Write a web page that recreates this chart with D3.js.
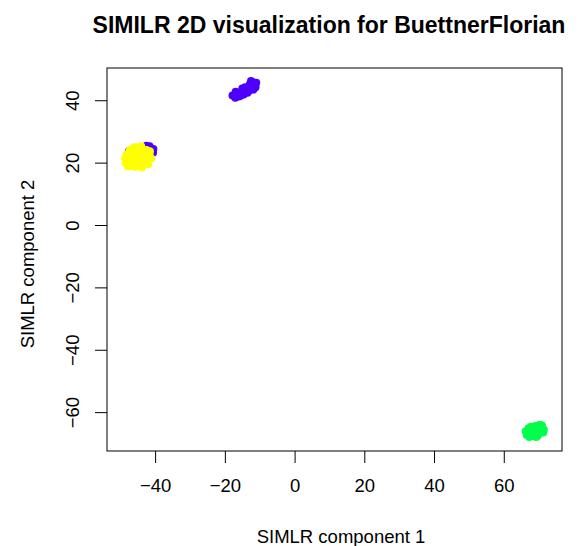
<!DOCTYPE html>
<html>
<head>
<meta charset="utf-8">
<script src="https://cdn.jsdelivr.net/npm/d3@7"></script>
<style>
  body { margin: 0; background: #fff; }
  svg { font-family: "Liberation Sans", Arial, Helvetica, sans-serif; }
</style>
</head>
<body>
<svg width="578" height="546"></svg>
<script>
//cluster points (SIMLR component 1, component 2)
var bluePoints = [
    [-17.8, 41.7], [-16.6, 42.0], [-15.8, 42.6], [-14.9, 43.0], [-14.0, 43.6],
    [-13.2, 44.0], [-12.3, 44.6], [-11.5, 45.2], [-11.2, 44.3], [-12.9, 45.2],
    [-12.0, 45.9], [-14.6, 42.0], [-13.5, 42.6], [-16.0, 41.4], [-16.9, 42.9],
    [-17.0, 41.0], [-15.5, 41.6], [-13.0, 43.2], [-11.0, 45.8], [-12.5, 46.3],
    [-11.8, 43.6], [-14.2, 44.3], [-15.0, 43.9],
    [-41.6, 25.4], [-40.5, 24.5], [-40.6, 23.3], [-42.5, 25.6], [-47.4, 24.0]
];
var yellowPoints = [
    [-48.6, 21.5], [-48.4, 20.0], [-47.5, 23.0], [-47.3, 19.2], [-46.8, 22.0],
    [-46.5, 24.2], [-46.3, 20.5], [-45.8, 18.8], [-45.5, 23.5], [-45.2, 21.8],
    [-45.0, 25.0], [-44.8, 20.0], [-44.5, 22.8], [-44.2, 19.0], [-44.0, 24.5],
    [-43.7, 21.2], [-43.3, 23.6], [-43.0, 19.8], [-42.8, 22.0], [-42.5, 24.2],
    [-42.2, 20.6], [-41.6, 22.8], [-41.1, 21.5], [-46.0, 25.1], [-47.2, 24.3],
    [-43.8, 18.6], [-45.6, 19.4], [-42.0, 19.6], [-48.2, 22.8], [-47.8, 18.9],
    [-41.5, 23.8], [-44.0, 25.4]
];
var greenPoints = [
    [66.3, -66.0], [66.6, -67.2], [67.1, -65.0], [67.5, -66.5], [67.8, -64.5],
    [68.1, -67.5], [68.5, -65.5], [68.8, -66.8], [69.1, -64.3], [69.5, -66.0],
    [69.8, -67.3], [70.1, -64.8], [70.5, -66.2], [70.9, -65.0], [71.3, -66.4],
    [71.5, -65.5], [67.3, -67.8], [69.3, -67.8], [70.3, -63.9], [71.0, -64.2]
];
var groups = [
    { name: "blue", color: "#4D00FF", points: bluePoints },
    { name: "yellow", color: "#FFFF00", points: yellowPoints },
    { name: "green", color: "#00FF4D", points: greenPoints }
];
var xTicks = [-40, -20, 0, 20, 40, 60];
var yTicks = [-60, -40, -20, 0, 20, 40];

var svg = d3.select("svg");
var box = { left: 107, right: 562, top: 68, bottom: 451 };

var x = d3.scaleLinear().domain([-53.8, 76.7]).range([box.left, box.right]);
var y = d3.scaleLinear().domain([-72.3, 50.5]).range([box.bottom, box.top]);

//points
groups.forEach(function (g) {
    svg.append("g")
        .attr("class", "pts-" + g.name)
        .selectAll("circle")
        .data(g.points)
        .enter()
        .append("circle")
        .attr("cx", function (d) { return x(d[0]); })
        .attr("cy", function (d) { return y(d[1]); })
        .attr("r", 4)
        .attr("fill", g.color);
});

//frame
svg.append("rect")
    .attr("x", box.left)
    .attr("y", box.top)
    .attr("width", box.right - box.left)
    .attr("height", box.bottom - box.top)
    .attr("fill", "none")
    .attr("stroke", "#000")
    .attr("stroke-width", 1);

//axes
var fmt = d3.format("");
var xAxis = svg.append("g")
    .attr("transform", "translate(0," + box.bottom + ")")
    .call(d3.axisBottom(x).tickValues(xTicks).tickSize(12).tickPadding(16).tickFormat(fmt));
xAxis.select(".domain").remove();
xAxis.selectAll("text").attr("font-size", 18.5).attr("fill", "#000").attr("font-family", null);

var yAxis = svg.append("g")
    .attr("transform", "translate(" + box.left + ",0)")
    .call(d3.axisLeft(y).tickValues(yTicks).tickSize(12).tickFormat(fmt));
yAxis.select(".domain").remove();
yAxis.selectAll(".tick").attr("transform", "translate(0,0)");
yAxis.selectAll(".tick line")
    .attr("y1", function (d) { return y(d); })
    .attr("y2", function (d) { return y(d); });
yAxis.selectAll("text")
    .attr("font-size", 18.5)
    .attr("fill", "#000")
    .attr("font-family", null)
    .attr("text-anchor", "middle")
    .attr("x", null)
    .attr("y", 0)
    .attr("dy", "0.35em")
    .attr("transform", function (d) { return "translate(-34," + y(d) + ") rotate(-90)"; });

//titles
svg.append("text")
    .attr("x", 329)
    .attr("y", 33)
    .attr("text-anchor", "middle")
    .attr("font-weight", "bold")
    .attr("font-size", 23)
    .text("SIMILR 2D visualization for BuettnerFlorian");

svg.append("text")
    .attr("x", 341)
    .attr("y", 543)
    .attr("text-anchor", "middle")
    .attr("font-size", 18.5)
    .text("SIMLR component 1");

svg.append("text")
    .attr("transform", "translate(34,264) rotate(-90)")
    .attr("text-anchor", "middle")
    .attr("font-size", 18.5)
    .text("SIMLR component 2");
</script>
</body>
</html>
